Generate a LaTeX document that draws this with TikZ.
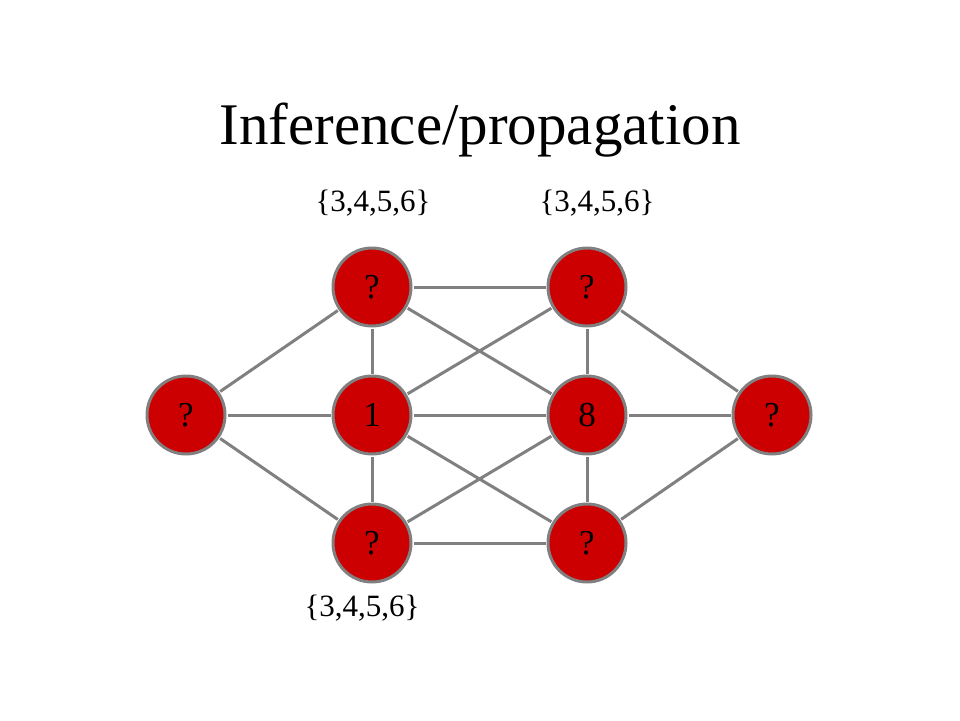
\documentclass[tikz,border=0pt]{standalone}
\usepackage{fontspec}
\setmainfont{Liberation Serif}
\definecolor{nodered}{HTML}{CC0000}
\definecolor{edgegray}{HTML}{808080}
\tikzset{
  var/.style={circle, draw=edgegray, line width=3pt, fill=nodered, minimum size=78pt, inner sep=0pt, font=\fontsize{35}{40}\selectfont, outer sep=2.5pt},
  edge/.style={draw=edgegray, line width=3pt},
  domlabel/.style={font=\fontsize{31}{36}\selectfont}
}
\begin{document}
\begin{tikzpicture}[x=1pt,y=-1pt]
\useasboundingbox (0,0) rectangle (960,720);
\node[font=\fontsize{59}{70}\selectfont] (title) at (480,130) {Inference/propagation};
\node[var] (tl) at (372,287) {?};
\node[var] (tr) at (587,287) {?};
\node[var] (l) at (186,415) {?};
\node[var] (one) at (372,415) {1};
\node[var] (eight) at (587,415) {8};
\node[var] (r) at (772,415) {?};
\node[var] (bl) at (372,543) {?};
\node[var] (br) at (587,543) {?};
\node[domlabel] (d1) at (373,203) {\{3,4,5,6\}};
\node[domlabel] (d2) at (597,203) {\{3,4,5,6\}};
\node[domlabel] (d3) at (362,608) {\{3,4,5,6\}};
\draw[edge] (l) -- (tl);
\draw[edge] (l) -- (one);
\draw[edge] (l) -- (bl);
\draw[edge] (tl) -- (one);
\draw[edge] (one) -- (bl);
\draw[edge] (tl) -- (tr);
\draw[edge] (tl) -- (eight);
\draw[edge] (one) -- (tr);
\draw[edge] (one) -- (eight);
\draw[edge] (one) -- (br);
\draw[edge] (bl) -- (eight);
\draw[edge] (bl) -- (br);
\draw[edge] (tr) -- (eight);
\draw[edge] (eight) -- (br);
\draw[edge] (r) -- (tr);
\draw[edge] (r) -- (eight);
\draw[edge] (r) -- (br);
\end{tikzpicture}
\end{document}
